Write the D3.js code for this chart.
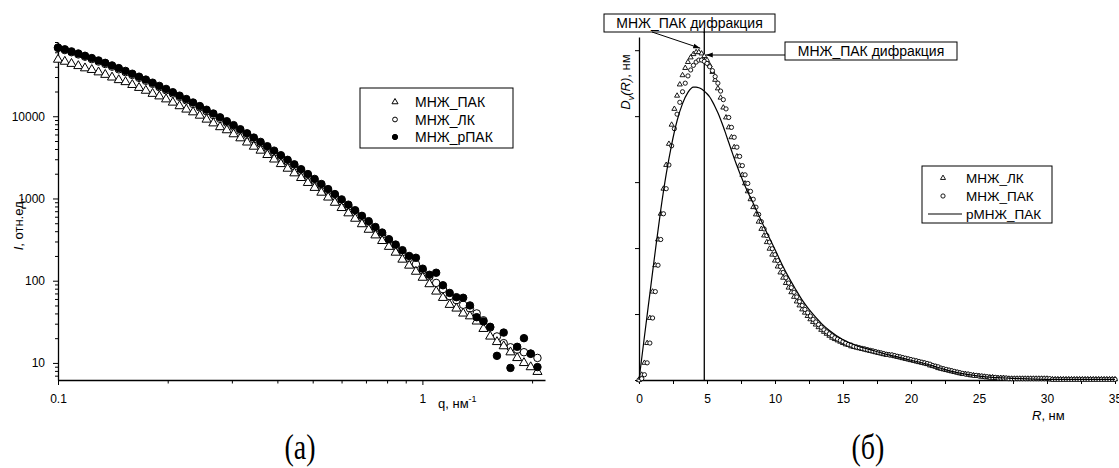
<!DOCTYPE html>
<html>
<head>
<meta charset="utf-8">
<script src="https://cdn.jsdelivr.net/npm/d3@7"></script>
<style>
  body { margin: 0; background: #fff; }
  svg { display: block; font-family: "Liberation Sans", Arial, sans-serif; }
</style>
</head>
<body>
<svg id="chart" width="1119" height="468"></svg>
<script>
// ---------- panel (a): SAXS intensity, log-log ----------
const qValues = [
  0.1, 0.1044, 0.1089, 0.1137, 0.1186, 0.1238, 0.1292, 0.1348, 0.1407, 0.1468,
  0.1532, 0.1599, 0.1669, 0.1742, 0.1818, 0.1897, 0.1980, 0.2066, 0.2156, 0.2250,
  0.2348, 0.2450, 0.2557, 0.2669, 0.2785, 0.2906, 0.3033, 0.3165, 0.3303, 0.3447,
  0.3597, 0.3754, 0.3918, 0.4089, 0.4267, 0.4453, 0.4647, 0.4850, 0.5061, 0.5282,
  0.5512, 0.5752, 0.6003, 0.6265, 0.6538, 0.6823, 0.7121, 0.7431, 0.7755, 0.8093,
  0.8446, 0.8814, 0.9198, 0.9599, 1.0018, 1.0454, 1.091, 1.1386, 1.1882, 1.24,
  1.294, 1.3504, 1.4093, 1.4707, 1.5348, 1.6017, 1.6715, 1.7444, 1.8204, 1.8998,
  1.9826, 2.069
];
// МНЖ_ЛК (open circles)
const iLK = [
  67600, 63800, 60100, 56500, 53000, 49500, 46300, 43200, 40100, 37200,
  34400, 31800, 29300, 27000, 24800, 22600, 20700, 18900, 17200, 15600,
  14100, 12800, 11500, 10350, 9310, 8340, 7450, 6650, 5920, 5260,
  4660, 4120, 3640, 3200, 2810, 2470, 2160, 1880, 1640, 1430,
  1240, 1070, 923, 796, 684, 586, 502, 429, 366, 311,
  264, 223, 189, 159, 134, 112, 94, 79, 65, 58,
  51, 46, 40, 33, 27, 21, 17.4, 15.5, 14.5, 13.5,
  12.9, 11.5
];
// МНЖ_ПАК (open triangles)
const iPAK = [
  48900, 46200, 43500, 40900, 38400, 36700, 34300, 32000, 29700, 27600,
  26100, 24100, 22200, 20500, 18800, 17500, 16100, 14700, 13300, 12100,
  11200, 10200, 9130, 8220, 7390, 6780, 6060, 5410, 4810, 4280,
  3830, 3390, 2990, 2630, 2310, 2030, 1780, 1550, 1350, 1180,
  1030, 890, 768, 662, 569, 488, 418, 357, 305, 259,
  220, 181, 153, 129, 109, 91, 74, 62, 51, 46,
  40, 37, 32, 26, 21, 18, 16, 13.5, 11.5, 10,
  8.9, 7.8
];
// МНЖ_рПАК (filled circles)
const iRPAK = [
  68500, 65200, 61500, 58000, 54400, 51000, 47700, 44600, 41500, 38500,
  35600, 32900, 30300, 27900, 25600, 23400, 21500, 19600, 17800, 16200,
  14700, 13300, 12000, 10800, 9700, 8700, 7800, 6950, 6200, 5500,
  4880, 4320, 3820, 3360, 2950, 2600, 2270, 1980, 1730, 1500,
  1300, 1130, 975, 840, 720, 615, 530, 450, 385, 320,
  275, 235, 200, 190, 140, 118, 125, 88, 71, 63,
  62, 50, 36, 32, 27.5, 12.2, 23.4, 8.7, 15.7, 20,
  13, 8.9
];
const legendA = ["МНЖ_ПАК", "МНЖ_ЛК", "МНЖ_рПАК"];

// ---------- panel (б): volume size distribution ----------
const rGrid = [
  0, 0.2, 0.4, 0.6, 0.8, 1, 1.2, 1.4, 1.6, 1.8,
  2, 2.2, 2.4, 2.6, 2.8, 3, 3.2, 3.4, 3.6, 3.8,
  4, 4.2, 4.4, 4.6, 4.8, 5, 5.2, 5.4, 5.6, 5.8,
  6, 6.2, 6.4, 6.6, 6.8, 7, 7.2, 7.4, 7.6, 7.8,
  8, 8.2, 8.4, 8.6, 8.8, 9, 9.2, 9.4, 9.6, 9.8,
  10, 10.2, 10.4, 10.6, 10.8, 11, 11.2, 11.4, 11.6, 11.8,
  12, 12.2, 12.4, 12.6, 12.8, 13, 13.2, 13.4, 13.6, 13.8,
  14, 14.2, 14.4, 14.6, 14.8, 15, 15.2, 15.4, 15.6, 15.8,
  16, 16.2, 16.4, 16.6, 16.8, 17, 17.2, 17.4, 17.6, 17.8,
  18, 18.2, 18.4, 18.6, 18.8, 19, 19.2, 19.4, 19.6, 19.8,
  20, 20.2, 20.4, 20.6, 20.8, 21, 21.2, 21.4, 21.6, 21.8,
  22, 22.2, 22.4, 22.6, 22.8, 23, 23.2, 23.4, 23.6, 23.8,
  24, 24.2, 24.4, 24.6, 24.8, 25, 25.2, 25.4, 25.6, 25.8,
  26, 26.2, 26.4, 26.6, 26.8, 27, 27.2, 27.4, 27.6, 27.8,
  28, 28.2, 28.4, 28.6, 28.8, 29, 29.2, 29.4, 29.6, 29.8,
  30, 30.2, 30.4, 30.6, 30.8, 31, 31.2, 31.4, 31.6, 31.8,
  32, 32.2, 32.4, 32.6, 32.8, 33, 33.2, 33.4, 33.6, 33.8,
  34, 34.2, 34.4, 34.6, 34.8, 35
];
// МНЖ_ЛК (triangles)
const dvLK = [
  0.00, 0.08, 0.26, 0.56, 0.94, 1.34, 1.74, 2.13, 2.52, 2.90,
  3.26, 3.58, 3.87, 4.11, 4.31, 4.48, 4.62, 4.73, 4.82, 4.89,
  4.94, 4.97, 4.97, 4.95, 4.91, 4.85, 4.77, 4.67, 4.55, 4.42,
  4.28, 4.13, 3.98, 3.83, 3.68, 3.53, 3.39, 3.25, 3.11, 2.98,
  2.86, 2.74, 2.62, 2.51, 2.40, 2.29, 2.19, 2.09, 1.99, 1.90,
  1.81, 1.72, 1.63, 1.55, 1.47, 1.40, 1.33, 1.26, 1.19, 1.13,
  1.07, 1.02, 0.97, 0.92, 0.88, 0.84, 0.80, 0.76, 0.73, 0.70,
  0.67, 0.64, 0.62, 0.60, 0.58, 0.56, 0.54, 0.53, 0.51, 0.50,
  0.49, 0.48, 0.47, 0.46, 0.45, 0.44, 0.43, 0.42, 0.41, 0.40,
  0.39, 0.38, 0.38, 0.37, 0.36, 0.35, 0.34, 0.33, 0.32, 0.31,
  0.30, 0.29, 0.28, 0.27, 0.26, 0.25, 0.24, 0.22, 0.21, 0.20,
  0.18, 0.17, 0.16, 0.15, 0.14, 0.13, 0.12, 0.11, 0.10, 0.09,
  0.09, 0.08, 0.07, 0.07, 0.06, 0.06, 0.05, 0.05, 0.04, 0.04,
  0.04, 0.03, 0.03, 0.03, 0.03, 0.02, 0.02, 0.02, 0.02, 0.02,
  0.02, 0.02, 0.02, 0.02, 0.02, 0.02, 0.02, 0.02, 0.02, 0.02,
  0.02, 0.01, 0.01, 0.01, 0.01, 0.01, 0.01, 0.01, 0.01, 0.01,
  0.01, 0.01, 0.01, 0.01, 0.01, 0.01, 0.01, 0.01, 0.01, 0.01,
  0.01, 0.01, 0.01, 0.01, 0.01, 0.01
];
// МНЖ_ПАК (circles)
const dvPAK = [
  0.00, 0.02, 0.08, 0.26, 0.56, 0.94, 1.34, 1.74, 2.13, 2.52,
  2.90, 3.26, 3.55, 3.81, 4.03, 4.21, 4.37, 4.50, 4.61, 4.70,
  4.77, 4.82, 4.85, 4.85, 4.83, 4.80, 4.75, 4.69, 4.60, 4.50,
  4.38, 4.25, 4.11, 3.98, 3.83, 3.68, 3.53, 3.39, 3.25, 3.11,
  2.98, 2.86, 2.74, 2.62, 2.51, 2.40, 2.29, 2.19, 2.09, 1.99,
  1.90, 1.81, 1.72, 1.63, 1.55, 1.47, 1.40, 1.33, 1.26, 1.19,
  1.13, 1.07, 1.02, 0.97, 0.92, 0.88, 0.84, 0.80, 0.76, 0.73,
  0.70, 0.67, 0.64, 0.62, 0.60, 0.58, 0.56, 0.54, 0.53, 0.51,
  0.50, 0.49, 0.48, 0.47, 0.46, 0.45, 0.44, 0.43, 0.42, 0.41,
  0.40, 0.39, 0.38, 0.38, 0.37, 0.36, 0.35, 0.34, 0.33, 0.32,
  0.31, 0.30, 0.29, 0.28, 0.27, 0.26, 0.25, 0.24, 0.22, 0.21,
  0.20, 0.18, 0.17, 0.16, 0.15, 0.14, 0.13, 0.12, 0.11, 0.10,
  0.09, 0.09, 0.08, 0.07, 0.07, 0.06, 0.06, 0.05, 0.05, 0.04,
  0.04, 0.04, 0.03, 0.03, 0.03, 0.03, 0.02, 0.02, 0.02, 0.02,
  0.02, 0.02, 0.02, 0.02, 0.02, 0.02, 0.02, 0.02, 0.02, 0.02,
  0.02, 0.02, 0.01, 0.01, 0.01, 0.01, 0.01, 0.01, 0.01, 0.01,
  0.01, 0.01, 0.01, 0.01, 0.01, 0.01, 0.01, 0.01, 0.01, 0.01,
  0.01, 0.01, 0.01, 0.01, 0.01, 0.01
];
// рМНЖ_ПАК (solid line)
const lineR = [
  0, 0.4, 0.8, 1.2, 1.6, 2.0, 2.4, 2.8, 3.2, 3.6,
  4.0, 4.2, 4.4, 4.6, 4.8, 5.0, 5.2, 5.4, 5.6, 5.8,
  6.0, 6.2, 6.4, 6.6, 6.8, 7.0, 7.2, 7.4, 7.6, 7.8,
  8.0, 8.2, 8.4, 8.6, 8.8, 9.0, 9.5, 10, 10.5, 11,
  11.5, 12, 12.5, 13, 13.5, 14, 15, 16, 17, 18,
  19, 20, 21, 22, 23, 24, 25, 26, 27, 28,
  30, 32, 35
];
const lineD = [
  0, 0.66, 1.31, 1.96, 2.58, 3.12, 3.57, 3.93, 4.19, 4.36,
  4.44, 4.44, 4.43, 4.41, 4.38, 4.34, 4.29, 4.22, 4.14, 4.05,
  3.95, 3.84, 3.72, 3.60, 3.48, 3.36, 3.25, 3.14, 3.04, 2.94,
  2.85, 2.76, 2.68, 2.59, 2.50, 2.41, 2.19, 1.98, 1.76, 1.56,
  1.38, 1.21, 1.07, 0.95, 0.84, 0.75, 0.61, 0.52, 0.46, 0.40,
  0.35, 0.30, 0.25, 0.19, 0.13, 0.09, 0.06, 0.04, 0.03, 0.02,
  0.01, 0.01, 0.01
];
const legendB = ["МНЖ_ЛК", "МНЖ_ПАК", "рМНЖ_ПАК"];
const diffractionR = 4.8;
const noteText = "МНЖ_ПАК дифракция";

const svg = d3.select("#chart");
const defs = svg.append("defs");
defs.append("marker")
  .attr("id", "arr").attr("viewBox", "0 0 10 10")
  .attr("refX", 10).attr("refY", 5)
  .attr("markerWidth", 7).attr("markerHeight", 7)
  .attr("orient", "auto")
  .append("path").attr("d", "M0,1.5L10,5L0,8.5z").attr("fill", "#000");

function styleAxis(g, fs) {
  g.select(".domain").attr("stroke", "#000").attr("stroke-width", 1.3);
  g.selectAll(".tick line").attr("stroke", "#000").attr("stroke-width", 1);
  g.selectAll(".tick text").attr("fill", "#000").attr("font-size", fs)
    .attr("font-family", "Liberation Sans, Arial, sans-serif");
}

// ======= panel (a) =======
const xQ = d3.scaleLog().domain([0.1, 2.17]).range([58, 545]);
const yI = d3.scaleLog().domain([6.2, 80000]).range([380, 42]);
const isDecade = v => Math.abs(Math.log10(v) - Math.round(Math.log10(v))) < 1e-6;

const pa = svg.append("g");

const gxA = pa.append("g").attr("transform", "translate(0,380)")
  .call(d3.axisBottom(xQ).tickValues(xQ.ticks())
    .tickFormat(d => isDecade(d) ? d3.format("")(d) : "")
    .tickSize(5).tickSizeOuter(0).tickPadding(9));
gxA.selectAll(".tick").filter(d => !isDecade(d)).select("line").attr("y2", 3.5);
styleAxis(gxA, 12);

const gyA = pa.append("g").attr("transform", "translate(58,0)")
  .call(d3.axisLeft(yI).tickValues(yI.ticks())
    .tickFormat(d => isDecade(d) ? d3.format("d")(d) : "")
    .tickSize(5).tickSizeOuter(0).tickPadding(8));
gyA.selectAll(".tick").filter(d => !isDecade(d)).select("line").attr("x2", -3);
styleAxis(gyA, 12);

const circleA = d3.symbol(d3.symbolCircle, 44)();
const triA = d3.symbol(d3.symbolTriangle, 36)();

pa.append("g").selectAll("path").data(d3.zip(qValues, iLK)).join("path")
  .attr("transform", d => `translate(${xQ(d[0])},${yI(d[1])})`)
  .attr("d", circleA).attr("fill", "#fff").attr("stroke", "#000").attr("stroke-width", 1);
pa.append("g").selectAll("path").data(d3.zip(qValues, iPAK)).join("path")
  .attr("transform", d => `translate(${xQ(d[0])},${yI(d[1])})`)
  .attr("d", triA).attr("fill", "#fff").attr("stroke", "#000").attr("stroke-width", 1);
pa.append("g").selectAll("path").data(d3.zip(qValues, iRPAK)).join("path")
  .attr("transform", d => `translate(${xQ(d[0])},${yI(d[1])})`)
  .attr("d", circleA).attr("fill", "#000").attr("stroke", "#000").attr("stroke-width", 1);

// legend (a)
const lgA = pa.append("g").attr("transform", "translate(360,88)");
lgA.append("rect").attr("width", 153).attr("height", 60)
  .attr("fill", "#fff").attr("stroke", "#000").attr("stroke-width", 1);
const symsA = [
  { d: d3.symbol(d3.symbolTriangle, 16)(), fill: "#fff" },
  { d: d3.symbol(d3.symbolCircle, 18)(), fill: "#fff" },
  { d: d3.symbol(d3.symbolCircle, 22)(), fill: "#000" }
];
legendA.forEach((name, i) => {
  const row = lgA.append("g").attr("transform", `translate(0,${14 + i * 17.5})`);
  row.append("path").attr("d", symsA[i].d).attr("transform", "translate(35,0)")
    .attr("fill", symsA[i].fill).attr("stroke", "#000").attr("stroke-width", 1);
  row.append("text").attr("x", 55).attr("dy", "0.36em").attr("font-size", 14).text(name);
});

// axis titles (a)
const ylA = pa.append("text").attr("transform", "translate(23,224) rotate(-90)")
  .attr("text-anchor", "middle").attr("font-size", 13);
ylA.append("tspan").attr("font-style", "italic").text("I");
ylA.append("tspan").text(", отн.ед.");

const xlA = pa.append("text").attr("x", 438).attr("y", 408).attr("font-size", 13);
xlA.append("tspan").text("q, нм");
xlA.append("tspan").attr("dy", -6).attr("font-size", 9).text("-1");

pa.append("text").attr("transform", "translate(300,459) scale(1,1.3)")
  .attr("text-anchor", "middle")
  .attr("font-family", "Liberation Serif, Times New Roman, serif")
  .attr("font-size", 28).text("(a)");

// ======= panel (б) =======
const xR = d3.scaleLinear().domain([0, 35]).range([639, 1115]);
const yD = d3.scaleLinear().domain([0, 5.2]).range([380, 37]);

const pb = svg.append("g");

const gxB = pb.append("g").attr("transform", "translate(0,380)")
  .call(d3.axisBottom(xR).tickValues(d3.range(0, 35.01, 2.5))
    .tickFormat(d => d % 5 === 0 ? d3.format("d")(d) : "")
    .tickSize(4).tickSizeOuter(0).tickPadding(10));
styleAxis(gxB, 12);

const gyB = pb.append("g").attr("transform", "translate(639,0)")
  .call(d3.axisLeft(yD).tickValues(d3.range(0, 5.01, 1))
    .tickFormat("").tickSize(4).tickSizeOuter(0));
styleAxis(gyB, 12);

// diffraction line
pb.append("line")
  .attr("x1", xR(diffractionR)).attr("x2", xR(diffractionR))
  .attr("y1", 28).attr("y2", 380)
  .attr("stroke", "#000").attr("stroke-width", 1.3);

const triB = d3.symbol(d3.symbolTriangle, 11)();
const circB = d3.symbol(d3.symbolCircle, 14)();

pb.append("g").selectAll("path").data(d3.zip(rGrid, dvLK)).join("path")
  .attr("transform", d => `translate(${xR(d[0])},${yD(d[1])})`)
  .attr("d", triB).attr("fill", "#fff").attr("stroke", "#000").attr("stroke-width", 0.9);
pb.append("g").selectAll("path").data(d3.zip(rGrid, dvPAK)).join("path")
  .attr("transform", d => `translate(${xR(d[0])},${yD(d[1])})`)
  .attr("d", circB).attr("fill", "#fff").attr("stroke", "#000").attr("stroke-width", 0.9);

pb.append("path").datum(d3.zip(lineR, lineD))
  .attr("d", d3.line().x(d => xR(d[0])).y(d => yD(d[1])).curve(d3.curveMonotoneX))
  .attr("fill", "none").attr("stroke", "#000").attr("stroke-width", 1.2);

// annotations
function noteBox(x, y, w, h) {
  pb.append("rect").attr("x", x).attr("y", y).attr("width", w).attr("height", h)
    .attr("fill", "#fff").attr("stroke", "#000").attr("stroke-width", 1);
  pb.append("text").attr("x", x + w / 2).attr("y", y + h / 2).attr("dy", "0.36em")
    .attr("text-anchor", "middle").attr("font-size", 14).text(noteText);
}
noteBox(604, 14, 171, 18);
pb.append("line").attr("x1", 652).attr("y1", 32)
  .attr("x2", xR(4.5)).attr("y2", yD(5.03))
  .attr("stroke", "#000").attr("stroke-width", 1).attr("marker-end", "url(#arr)");
// vertical line passes over the first box
pb.append("line")
  .attr("x1", xR(diffractionR)).attr("x2", xR(diffractionR))
  .attr("y1", 28).attr("y2", 33)
  .attr("stroke", "#000").attr("stroke-width", 1.3);

noteBox(785, 42, 172, 18);
pb.append("line").attr("x1", 785).attr("y1", 55)
  .attr("x2", xR(diffractionR) + 1.5).attr("y2", 55)
  .attr("stroke", "#000").attr("stroke-width", 1).attr("marker-end", "url(#arr)");

// legend (б)
const lgB = pb.append("g").attr("transform", "translate(922,166)");
lgB.append("rect").attr("width", 130).attr("height", 57)
  .attr("fill", "#fff").attr("stroke", "#000").attr("stroke-width", 1);
legendB.forEach((name, i) => {
  const row = lgB.append("g").attr("transform", `translate(0,${12 + i * 18})`);
  if (i === 0) row.append("path").attr("d", triB).attr("transform", "translate(21,0)")
    .attr("fill", "#fff").attr("stroke", "#000").attr("stroke-width", 0.9);
  if (i === 1) row.append("path").attr("d", circB).attr("transform", "translate(21,0)")
    .attr("fill", "#fff").attr("stroke", "#000").attr("stroke-width", 0.9);
  if (i === 2) row.append("line").attr("x1", 6).attr("x2", 40)
    .attr("stroke", "#000").attr("stroke-width", 1.2);
  row.append("text").attr("x", 44).attr("dy", "0.36em").attr("font-size", 13.5).text(name);
});

// axis titles (б)
const ylB = pb.append("text").attr("transform", "translate(630,82) rotate(-90)")
  .attr("text-anchor", "middle").attr("font-size", 13);
ylB.append("tspan").attr("font-style", "italic").text("D");
ylB.append("tspan").attr("font-style", "italic").attr("font-size", 9).attr("dy", 4).text("v");
ylB.append("tspan").attr("font-style", "italic").attr("dy", -4).text("(R)");
ylB.append("tspan").text(", нм");

const xlB = pb.append("text").attr("x", 1032).attr("y", 420).attr("font-size", 13);
xlB.append("tspan").attr("font-style", "italic").text("R");
xlB.append("tspan").text(", нм");

pb.append("text").attr("transform", "translate(868,459) scale(1,1.3)")
  .attr("text-anchor", "middle")
  .attr("font-family", "Liberation Serif, Times New Roman, serif")
  .attr("font-size", 28).text("(б)");
</script>
</body>
</html>
